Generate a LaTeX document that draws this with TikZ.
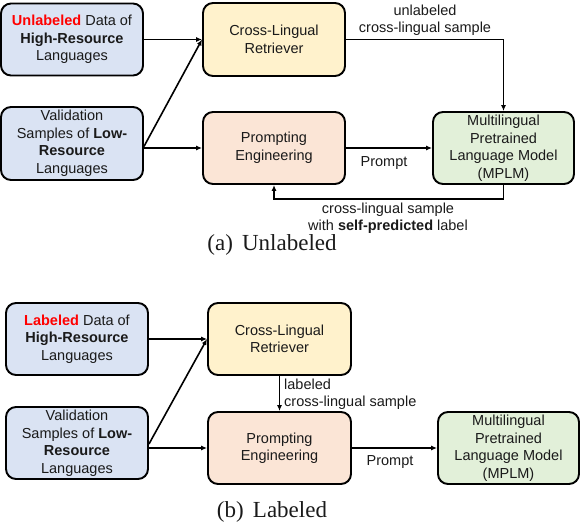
\documentclass[tikz,border=0pt]{standalone}
\usepackage{fontspec}
\setmainfont{Liberation Sans}
\newfontfamily\capfont{Liberation Serif}
\usetikzlibrary{arrows.meta}
\definecolor{bluefill}{HTML}{DAE3F3}
\definecolor{yelfill}{HTML}{FFF2CC}
\definecolor{orfill}{HTML}{FBE5D6}
\definecolor{grfill}{HTML}{E2F0D9}
\definecolor{txt}{HTML}{1A1A1A}
\tikzset{
  box/.style={draw=black, line width=1.9pt, rounded corners=10pt, align=center,
    minimum width=142pt, minimum height=72pt, inner sep=2pt, text=txt,
    font=\fontsize{14.5}{17.5}\selectfont},
  arr/.style={draw=black, line width=1.6pt, -{Latex[length=6pt,width=5pt]}},
  lbl/.style={font=\fontsize{14.5}{17.5}\selectfont, align=center, inner sep=0pt, text=txt},
  captext/.style={font=\capfont\fontsize{23}{26}\selectfont, inner sep=0pt, text=txt}
}
\begin{document}
\begin{tikzpicture}[x=1pt,y=-1pt]
\useasboundingbox (0,0) rectangle (580,526);
% ---------- (a) ----------
\node[box, fill=bluefill] (a1) at (72,39.5) {{\color{red}\textbf{Unlabeled}} Data of\\\textbf{High-Resource}\\Languages};
\node[box, fill=bluefill, minimum height=73pt] (a2) at (72,143.5) {Validation\\Samples of \textbf{Low-}\\\textbf{Resource}\\Languages};
\node[box, fill=yelfill, minimum height=73pt] (aclr) at (274,39.5) {Cross-Lingual\\Retriever};
\node[box, fill=orfill] (ape) at (274,148) {Prompting\\Engineering};
\node[box, fill=grfill, minimum width=141pt] (ampl) at (503.5,148) {Multilingual\\Pretrained\\Language Model\\(MPLM)};
\coordinate (afb) at (274,199);
\draw[arr] (a1.east) -- (aclr.west);
\draw[arr] ([yshift=-3pt]a2.east) -- (aclr.west);
\draw[arr] (a2.east |- ape.west) -- (ape.west);
\draw[arr] (aclr.east) -| (ampl.north);
\draw[arr] (ape.east) -- (ampl.west);
\draw[arr] (ampl.south) |- (afb) -- (ape.south);
\node[lbl] (alab1) at (425,20.5) {unlabeled\\cross-lingual sample};
\node[lbl] (alab2) at (384,163) {Prompt};
\node[lbl] (alab3) at (388,218.5) {cross-lingual sample\\with \textbf{self-predicted} label};
\node[captext] (capa) at (272,245) {(a)\hspace{0.4em}Unlabeled};
% ---------- (b) ----------
\node[box, fill=bluefill] (b1) at (77,339) {{\color{red}\textbf{Labeled}} Data of\\\textbf{High-Resource}\\Languages};
\node[box, fill=bluefill] (b2) at (77,443) {Validation\\Samples of \textbf{Low-}\\\textbf{Resource}\\Languages};
\node[box, fill=yelfill, minimum width=143pt] (bclr) at (279.5,339) {Cross-Lingual\\Retriever};
\node[box, fill=orfill, minimum width=143pt] (bpe) at (279.5,448) {Prompting\\Engineering};
\node[box, fill=grfill, minimum width=141pt] (bmpl) at (508.5,448) {Multilingual\\Pretrained\\Language Model\\(MPLM)};
\draw[arr] (b1.east) -- (bclr.west);
\draw[arr] ([yshift=-1pt]b2.east) -- (bclr.west);
\draw[arr] (b2.east |- bpe.west) -- (bpe.west);
\draw[arr] (bclr.south) -- (bpe.north);
\draw[arr] (bpe.east) -- (bmpl.west);
\node[lbl, align=left, anchor=west] (blab1) at (284,394) {labeled\\cross-lingual sample};
\node[lbl] (blab2) at (390,462) {Prompt};
\node[captext] (capb) at (272,512) {(b)\hspace{0.4em}Labeled};
\end{tikzpicture}
\end{document}
